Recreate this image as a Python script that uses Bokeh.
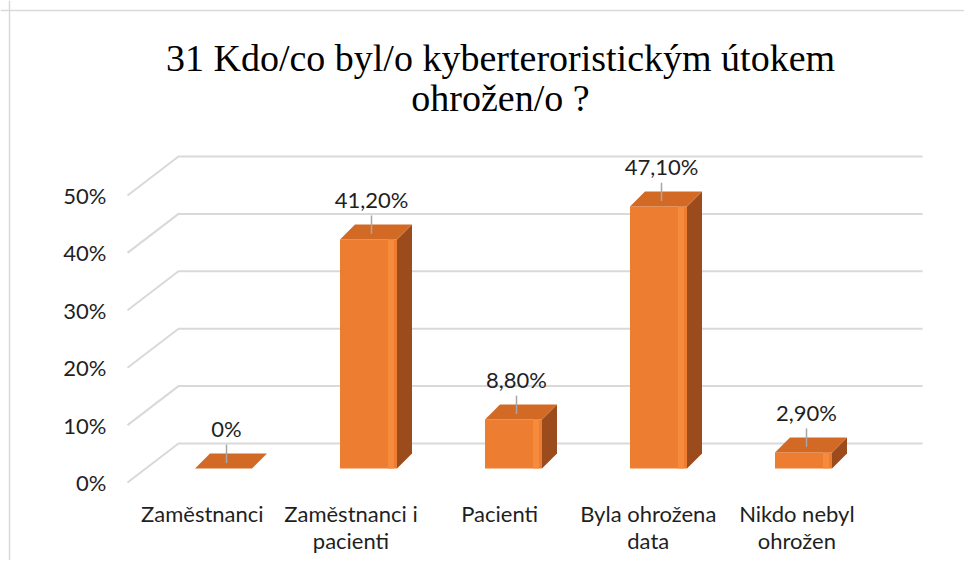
from bokeh.plotting import figure
from bokeh.models import Range1d, Span
from bokeh.core.properties import value
from bokeh.embed import file_html
from bokeh.resources import INLINE

# ---------------- data ----------------
categories = ["Zaměstnanci", "Zaměstnanci i\npacienti", "Pacienti",
              "Byla ohrožena\ndata", "Nikdo nebyl\nohrožen"]
values = [0.0, 41.2, 8.8, 47.1, 2.9]
value_labels = ["0%", "41,20%", "8,80%", "47,10%", "2,90%"]
ticks = [0, 10, 20, 30, 40, 50]
tick_labels = ["0%", "10%", "20%", "30%", "40%", "50%"]
title_lines = ["31 Kdo/co byl/o kyberteroristickým útokem", "ohrožen/o ?"]

# ---------------- layout (pixel calibration) ----------------
W, H = 964, 560
PX_CAT = 145.0      # px per category step
PX_PCT = 5.56       # px per percent (bar plane)
ORX, ORY = 223.0, 468.0   # canvas px of (category 0, 0 %)


def ux(px):
    return px / PX_CAT


def uy(px):
    return px / PX_PCT


x_range = Range1d(-ORX / PX_CAT, (W - ORX) / PX_CAT)
y_range = Range1d(-(H - ORY) / PX_PCT, ORY / PX_PCT)

# 3D wall geometry
WX0, WY0 = ux(127 - ORX), uy(ORY - 482)   # front-left floor corner
DDX, DDY = ux(51), uy(39)                 # depth vector (front -> back wall)
WSCALE = 5.74 / PX_PCT                    # wall value scale
BACK_RIGHT = ux(922 - ORX)

# bar geometry
BAR_W = ux(57)
BDX, BDY = ux(15), uy(15)

FONT = value("Lato")
FS = "22px"
TXT = "#1f1f1f"

p = figure(width=W, height=H, x_range=x_range, y_range=y_range,
           output_backend="svg", toolbar_location=None, min_border=0,
           background_fill_color="white", border_fill_color="white")
p.xaxis.visible = False
p.yaxis.visible = False
p.grid.visible = False
p.outline_line_color = None

# chart border (top & left visible)
p.add_layout(Span(location=uy(ORY - 10), dimension="width", line_color="#D9D9D9", line_width=1.5))
p.add_layout(Span(location=ux(9 - ORX), dimension="height", line_color="#D9D9D9", line_width=1.5))

# gridlines: back wall + side wall
gx, gy = [], []
for t in ticks:
    yb = WY0 + DDY + t * WSCALE
    yf = WY0 + t * WSCALE
    gx.append([WX0, WX0 + DDX, BACK_RIGHT])
    gy.append([yf, yb, yb])
p.multi_line(gx, gy, line_color="#D9D9D9", line_width=2)

# y tick labels
p.text(x=[WX0 - ux(21)] * len(ticks), y=[WY0 + t * WSCALE for t in ticks], text=tick_labels,
       text_font=FONT, text_font_size=FS, text_color=TXT,
       text_align="right", text_baseline="middle")

# bars
xs_front, ys_front, xs_side, ys_side, xs_top, ys_top = [], [], [], [], [], []
xs_hl, ys_hl = [], []
for i, v in enumerate(values):
    xl, xr = i - BAR_W / 2, i + BAR_W / 2
    xs_front.append([xl, xr, xr, xl]); ys_front.append([0, 0, v, v])
    xs_side.append([xr, xr + BDX, xr + BDX, xr]); ys_side.append([0, BDY, v + BDY, v])
    xs_top.append([xl, xr, xr + BDX, xl + BDX]); ys_top.append([v, v, v + BDY, v + BDY])
    xs_hl.append([xr - ux(9), xr - ux(3), xr - ux(3), xr - ux(9)]); ys_hl.append([0, 0, v, v])

p.patches(xs_side, ys_side, fill_color="#9C4C1C", line_color=None)
p.patches(xs_front, ys_front, fill_color="#ED7D31", line_color=None)
p.patches(xs_hl, ys_hl, fill_color="#F68B3D", line_color=None)
p.patches(xs_top, ys_top, fill_color="#D26A26", line_color=None)

# leader lines + data labels
lx = [i + ux(3) for i in range(len(values))]
p.segment(x0=lx, y0=[v + 4.3 for v in values], x1=lx, y1=[v + 1.0 for v in values],
          line_color="#A6A6A6", line_width=1.5)
p.text(x=lx, y=[v + 7.2 for v in values], text=value_labels,
       text_font=FONT, text_font_size=FS, text_color=TXT,
       text_align="center", text_baseline="middle")

# category labels (front plane, slight perspective)
VX, PERSP = 5.83, 1.025
cx = [VX + (i - VX) * PERSP for i in range(len(categories))]
line1 = [c.split("\n")[0] for c in categories]
line2 = [c.split("\n")[1] if "\n" in c else "" for c in categories]
p.text(x=cx, y=[uy(ORY - 513)] * len(cx), text=line1, text_font=FONT, text_font_size=FS,
       text_color=TXT, text_align="center", text_baseline="middle")
p.text(x=cx, y=[uy(ORY - 540)] * len(cx), text=line2, text_font=FONT, text_font_size=FS,
       text_color=TXT, text_align="center", text_baseline="middle")

# title
tcx = ux(500 - ORX)
p.text(x=[tcx, tcx], y=[uy(ORY - 57), uy(ORY - 97)], text=title_lines,
       text_font=value("Liberation Serif"), text_font_size="38px", text_color="#000000",
       text_align="center", text_baseline="middle")

open("out.html", "w").write(file_html(p, INLINE))
